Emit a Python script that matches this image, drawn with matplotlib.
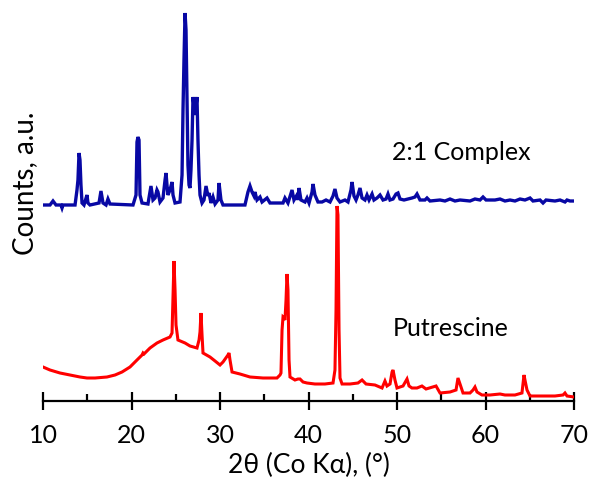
import matplotlib.pyplot as plt
from matplotlib.ticker import MultipleLocator

plt.rcParams['font.family'] = ['Lato', 'DejaVu Sans']

# 2:1 complex pattern (2theta in degrees, counts above its own baseline)
complex_2theta = [
    10.00, 10.79, 11.13, 11.47, 12.03, 12.15, 12.26, 13.62, 13.84, 13.95,
    14.07, 14.18, 14.29, 14.41, 14.63, 14.86, 14.97, 15.08, 15.31, 16.33,
    16.55, 16.78, 17.12, 17.34, 17.57, 20.17, 20.51, 20.62, 20.73, 20.85,
    20.96, 21.19, 21.86, 22.09, 22.20, 22.43, 22.66, 22.88, 22.99, 23.22,
    23.56, 23.79, 23.90, 24.01, 24.12, 24.35, 24.58, 24.69, 24.92, 25.48,
    25.71, 25.82, 25.93, 26.05, 26.16, 26.27, 26.38, 26.50, 26.61, 26.72,
    26.84, 26.95, 27.18, 27.40, 27.51, 27.63, 27.74, 27.97, 28.19, 28.42,
    28.64, 28.76, 28.98, 29.21, 29.44, 29.77, 29.89, 30.11, 30.34, 32.82,
    33.16, 33.39, 33.62, 33.84, 33.95, 34.18, 34.52, 34.75, 35.31, 35.65,
    37.12, 37.34, 37.68, 38.14, 38.36, 38.70, 38.81, 38.93, 39.15, 39.60,
    39.83, 40.06, 40.40, 40.51, 40.73, 41.07, 41.53, 41.98, 42.43, 42.77,
    42.99, 43.22, 43.56, 44.12, 44.46, 44.80, 44.92, 45.14, 45.37, 45.59,
    45.82, 46.05, 46.38, 46.61, 46.84, 47.18, 47.40, 47.74, 48.08, 48.42,
    48.76, 48.98, 49.21, 49.55, 49.89, 50.11, 50.34, 50.79, 51.24, 51.69,
    52.03, 52.26, 52.60, 53.16, 53.39, 53.73, 54.86, 55.42, 55.99, 56.55,
    57.12, 58.25, 58.81, 59.38, 59.72, 60.06, 61.07, 61.64, 62.20, 62.77,
    63.33, 63.90, 64.46, 65.03, 65.37, 66.16, 66.50, 66.84, 67.85, 68.42,
    68.98, 69.21, 69.55, 70.00,
]
complex_counts = [
    0, 0, 4, 0, 0, -3, 0, 0, 15, 25,
    52, 45, 20, 2, 0, 7, 10, 2, 0, 2,
    14, 2, 0, 6, 1, 0, 10, 63, 68, 65,
    10, 2, 1, 13, 19, 5, 7, 15, 13, 3,
    7, 25, 32, 20, 10, 15, 23, 10, 2, 3,
    30, 95, 145, 192, 175, 105, 40, 20, 17, 35,
    65, 108, 90, 108, 65, 30, 10, 2, 5, 19,
    9, 12, 2, 8, 1, 5, 22, 5, 0, 0,
    13, 19, 13, 9, 13, 5, 8, 3, 7, 2,
    2, 7, 2, 15, 5, 10, 5, 17, 5, 3,
    7, 2, 13, 21, 10, 3, 3, 5, 3, 9,
    16, 7, 3, 5, 3, 15, 23, 9, 5, 10,
    17, 7, 5, 10, 5, 11, 5, 7, 10, 5,
    6, 11, 5, 6, 11, 12, 6, 5, 6, 7,
    8, 11, 5, 5, 7, 4, 5, 4, 6, 4,
    5, 4, 6, 5, 8, 5, 5, 6, 4, 5,
    4, 6, 5, 7, 4, 5, 2, 5, 4, 5,
    3, 5, 4, 4,
]
complex_offset = 196

# putrescine pattern (2theta in degrees, counts)
putrescine_2theta = [
    10.00, 10.79, 11.92, 13.05, 14.18, 14.97, 15.88, 17.23, 18.14, 18.93,
    19.83, 20.62, 21.19, 21.30, 21.41, 22.09, 22.88, 23.56, 24.35, 24.58,
    24.69, 24.80, 24.92, 25.03, 25.25, 26.05, 26.61, 27.40, 27.63, 27.74,
    27.85, 27.97, 28.08, 28.87, 29.44, 30.00, 30.34, 30.90, 31.02, 31.13,
    31.36, 32.26, 33.39, 34.86, 35.65, 36.44, 36.78, 36.89, 37.01, 37.12,
    37.23, 37.34, 37.46, 37.57, 37.68, 37.80, 37.91, 38.47, 38.81, 39.04,
    39.38, 39.83, 40.73, 41.86, 42.77, 42.99, 43.11, 43.22, 43.33, 43.45,
    43.56, 43.79, 44.69, 45.59, 46.05, 46.50, 47.51, 48.31, 48.64, 48.87,
    49.21, 49.44, 49.55, 49.77, 50.00, 50.68, 51.13, 51.36, 51.69, 52.26,
    52.82, 53.28, 54.41, 54.86, 55.99, 56.67, 56.89, 57.12, 57.46, 58.25,
    58.59, 58.81, 59.04, 59.60, 60.51, 61.64, 62.20, 63.33, 64.12, 64.35,
    64.46, 64.69, 65.03, 66.72, 67.85, 68.76, 68.98, 69.21, 70.00,
]
putrescine_counts = [
    34, 31, 28, 26, 24, 23, 23, 24, 26, 29,
    34, 41, 46, 48, 47, 53, 58, 61, 64, 68,
    104, 140, 111, 76, 61, 58, 55, 53, 61, 69,
    88, 66, 48, 44, 40, 36, 39, 46, 48, 41,
    29, 27, 24, 23, 23, 23, 26, 28, 71, 84,
    83, 81, 101, 127, 111, 41, 24, 21, 22, 22,
    19, 18, 17, 17, 18, 31, 91, 195, 186, 71,
    23, 17, 17, 18, 21, 17, 16, 13, 20, 15,
    17, 29, 31, 21, 13, 15, 22, 15, 13, 13,
    15, 12, 15, 8, 9, 11, 23, 17, 8, 8,
    11, 14, 9, 6, 6, 7, 6, 6, 8, 26,
    21, 11, 5, 5, 5, 6, 8, 5, 4,
]

xticks = [10, 20, 30, 40, 50, 60, 70]

fig = plt.figure(figsize=(5.91, 4.8), dpi=100)
ax = fig.add_axes([43 / 591, 1 - 401 / 480, 531 / 591, 401 / 480])

ax.plot(complex_2theta, [c + complex_offset for c in complex_counts],
        color='#0808A4', lw=2.4, solid_joinstyle='miter')
ax.plot(putrescine_2theta, putrescine_counts,
        color='#FF0000', lw=2.2, solid_joinstyle='miter')

ax.set_xlim(10, 70)
ax.set_ylim(0, 401)

for side in ['left', 'right', 'top']:
    ax.spines[side].set_visible(False)
ax.spines['bottom'].set_linewidth(1.6)
ax.set_yticks([])

ax.set_xticks(xticks)
ax.xaxis.set_minor_locator(MultipleLocator(5))
ax.tick_params(axis='x', which='major', direction='inout', length=13,
               width=1.6, labelsize=18, pad=10, colors='black')
ax.tick_params(axis='x', which='minor', direction='in', length=5, width=1.6)
ax.set_xlabel('2θ (Co Kα), (°)', fontsize=19, labelpad=4)

ax.text(57.3, 248, '2:1 Complex', fontsize=18, ha='center', va='center')
ax.text(56.1, 73, 'Putrescine', fontsize=18, ha='center', va='center')
fig.text(25 / 591, 1 - 183 / 480, 'Counts, a.u.', rotation=90, fontsize=20,
         ha='center', va='center')

fig.savefig('out.png', dpi=100)
